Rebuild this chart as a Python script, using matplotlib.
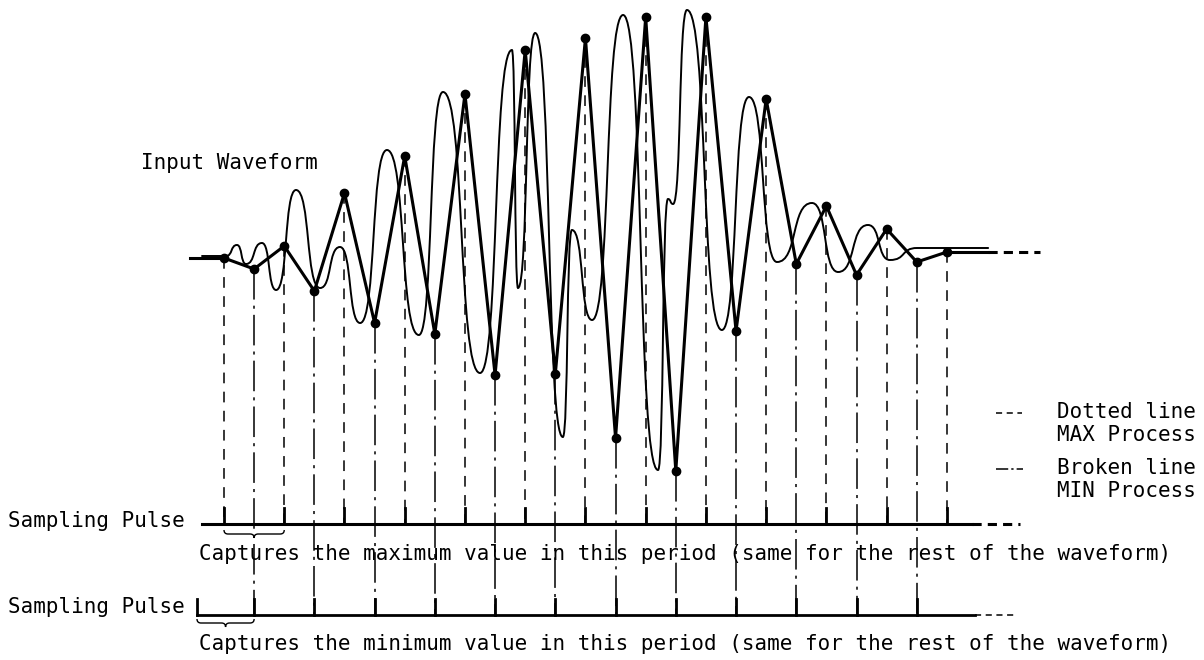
import matplotlib
matplotlib.use("Agg")
import matplotlib.pyplot as plt
from matplotlib.path import Path
from matplotlib.patches import PathPatch

# ---------------- data ----------------
# sampling instants (in sample periods) and the value captured at each one
sample_index = list(range(25))
sample_value = [0, -11, 12, -33, 65, -65, 102, -76, 164, -117, 208, -116, 220,
                -180, 241, -213, 241, -73, 159, -6, 52, -17, 29, -4, 6]
# even instants: MAX process (dotted line), odd instants: MIN process (broken line)
sample_process = ["MAX" if i % 2 == 0 else "MIN" for i in sample_index]

# turning points of the input waveform (time in sample periods, amplitude)
wave_t = [-0.73, 0.07, 0.43, 0.73, 1.26, 1.73, 2.39, 3.19, 3.85, 4.52, 5.41,
          6.47, 7.27, 8.50, 9.56, 9.76, 10.33, 11.25, 11.55, 12.22, 13.25,
          14.41, 14.74, 14.91, 15.37, 16.53, 17.43, 18.36, 19.52, 20.39,
          21.38, 22.11, 23.01, 25.37]
wave_a = [2, 2, 13, -6, 15, -32, 68, -30, 11, -65, 108, -77, 166, -115, 208,
          -30, 225, -179, 28, -62, 243, -212, 59, 54, 248, -72, 161, -4, 55,
          -14, 33, -2, 10, 10]

label_wave = "Input Waveform"
label_pulse = "Sampling Pulse"
label_max = "Captures the maximum value in this period (same for the rest of the waveform)"
label_min = "Captures the minimum value in this period (same for the rest of the waveform)"
legend_labels = [("Dotted line", "MAX Process"), ("Broken line", "MIN Process")]

# ---------------- layout helpers ----------------
W, H = 1204, 660
PX0, PITCH, BASE = 224.0, 30.12, 258.0


def X(px):
    return (px - PX0) / PITCH


def Y(py):
    return BASE - py


FONT = ["DejaVu Sans Mono"]
FS = 15

fig = plt.figure(figsize=(W / 100, H / 100), dpi=100)
ax = fig.add_axes([0, 0, 1, 1])
ax.set_xlim(X(0), X(W))
ax.set_ylim(Y(H), Y(0))
ax.set_axis_off()

UPPER_LINE = Y(524)
LOWER_LINE = Y(615)
TICK_H = 16

DASHED = (0, (7, 5.5))
DASHDOT = (0, (20, 4, 2, 4))

# ---------------- vertical sampling lines ----------------
for t, v, p in zip(sample_index, sample_value, sample_process):
    if p == "MAX":
        ax.plot([t, t], [v, UPPER_LINE], color="black", lw=1.1,
                linestyle=DASHED, zorder=1)
    else:
        ax.plot([t, t], [v, LOWER_LINE], color="black", lw=1.1,
                linestyle=DASHDOT, zorder=1)

# ---------------- input waveform (smooth curve through turning points) -----
verts = [(wave_t[0], wave_a[0])]
codes = [Path.MOVETO]
K = 0.6
for i in range(1, len(wave_t)):
    t0, a0 = wave_t[i - 1], wave_a[i - 1]
    t1, a1 = wave_t[i], wave_a[i]
    dt = t1 - t0
    verts += [(t0 + K * dt, a0), (t1 - K * dt, a1), (t1, a1)]
    codes += [Path.CURVE4] * 3
ax.add_patch(PathPatch(Path(verts, codes), fill=False, lw=1.4,
                       edgecolor="black", zorder=2, capstyle="round"))

# ---------------- sampled (captured) line ----------------
lead_t, tail_t, tail_dash_t = X(190), X(988), X(1040)
ax.plot([lead_t, sample_index[0]], [sample_value[0], sample_value[0]],
        color="black", lw=2.2, zorder=3)
ax.plot(sample_index, sample_value, color="black", lw=2.2, marker="o",
        markersize=6, zorder=3, solid_joinstyle="miter")
ax.plot([sample_index[-1], tail_t], [sample_value[-1], sample_value[-1]],
        color="black", lw=2.2, zorder=3)
ax.plot([tail_t, tail_dash_t], [sample_value[-1], sample_value[-1]],
        color="black", lw=2.2, linestyle=(0, (3, 2)), zorder=3)

ax.text(X(318), Y(163), label_wave, family=FONT, fontsize=FS,
        ha="right", va="center")

# ---------------- sampling pulse trains ----------------
max_t = [t for t, p in zip(sample_index, sample_process) if p == "MAX"]
min_t = [t for t, p in zip(sample_index, sample_process) if p == "MIN"]

# upper: MAX process
ax.plot([X(202), X(972)], [UPPER_LINE, UPPER_LINE], color="black", lw=2.2)
ax.plot([X(972), X(1020)], [UPPER_LINE, UPPER_LINE], color="black", lw=2.2,
        linestyle=(0, (3, 2)))
for t in max_t:
    ax.plot([t, t], [UPPER_LINE, UPPER_LINE + TICK_H], color="black", lw=2.0)

# lower: MIN process
ax.plot([X(197), X(975)], [LOWER_LINE, LOWER_LINE], color="black", lw=2.0)
ax.plot([X(975), X(1014)], [LOWER_LINE, LOWER_LINE], color="black", lw=1.1,
        linestyle=(0, (4, 3)))
for t in [X(197)] + min_t:
    ax.plot([t, t], [LOWER_LINE, LOWER_LINE + TICK_H], color="black", lw=2.0)

ax.text(X(8), Y(521), label_pulse, family=FONT, fontsize=FS,
        ha="left", va="center")
ax.text(X(8), Y(607), label_pulse, family=FONT, fontsize=FS,
        ha="left", va="center")
ax.text(X(199), Y(554), label_max, family=FONT, fontsize=FS,
        ha="left", va="center")
ax.text(X(199), Y(644), label_min, family=FONT, fontsize=FS,
        ha="left", va="center")


# ---------------- braces ----------------
def brace(t0, t1, ypx, h=4.0):
    mid = 0.5 * (t0 + t1)
    hx = h / PITCH
    pts = [(t0, Y(ypx - h)), (t0, Y(ypx)), (t0 + hx, Y(ypx)),
           (mid - hx, Y(ypx)), (mid, Y(ypx)), (mid, Y(ypx + h)),
           (mid, Y(ypx)), (mid + hx, Y(ypx)),
           (t1 - hx, Y(ypx)), (t1, Y(ypx)), (t1, Y(ypx - h))]
    cds = [Path.MOVETO, Path.CURVE3, Path.CURVE3, Path.LINETO, Path.CURVE3,
           Path.CURVE3, Path.CURVE3, Path.CURVE3, Path.LINETO, Path.CURVE3,
           Path.CURVE3]
    ax.add_patch(PathPatch(Path(pts, cds), fill=False, lw=1.0,
                           edgecolor="black"))


brace(max_t[0], max_t[1], 534)
brace(X(197), min_t[0], 623)

# ---------------- legend ----------------
ax.plot([X(996), X(1022)], [Y(413), Y(413)], color="black", lw=1.1,
        linestyle=(0, (4, 3)))
ax.plot([X(996), X(1023)], [Y(469), Y(469)], color="black", lw=1.1,
        linestyle=(0, (8, 2, 1.5, 2)))
ax.text(X(1057), Y(412), legend_labels[0][0], family=FONT, fontsize=FS,
        ha="left", va="center")
ax.text(X(1057), Y(435), legend_labels[0][1], family=FONT, fontsize=FS,
        ha="left", va="center")
ax.text(X(1057), Y(468), legend_labels[1][0], family=FONT, fontsize=FS,
        ha="left", va="center")
ax.text(X(1057), Y(491), legend_labels[1][1], family=FONT, fontsize=FS,
        ha="left", va="center")

fig.savefig("out.png", dpi=100, facecolor="white")
